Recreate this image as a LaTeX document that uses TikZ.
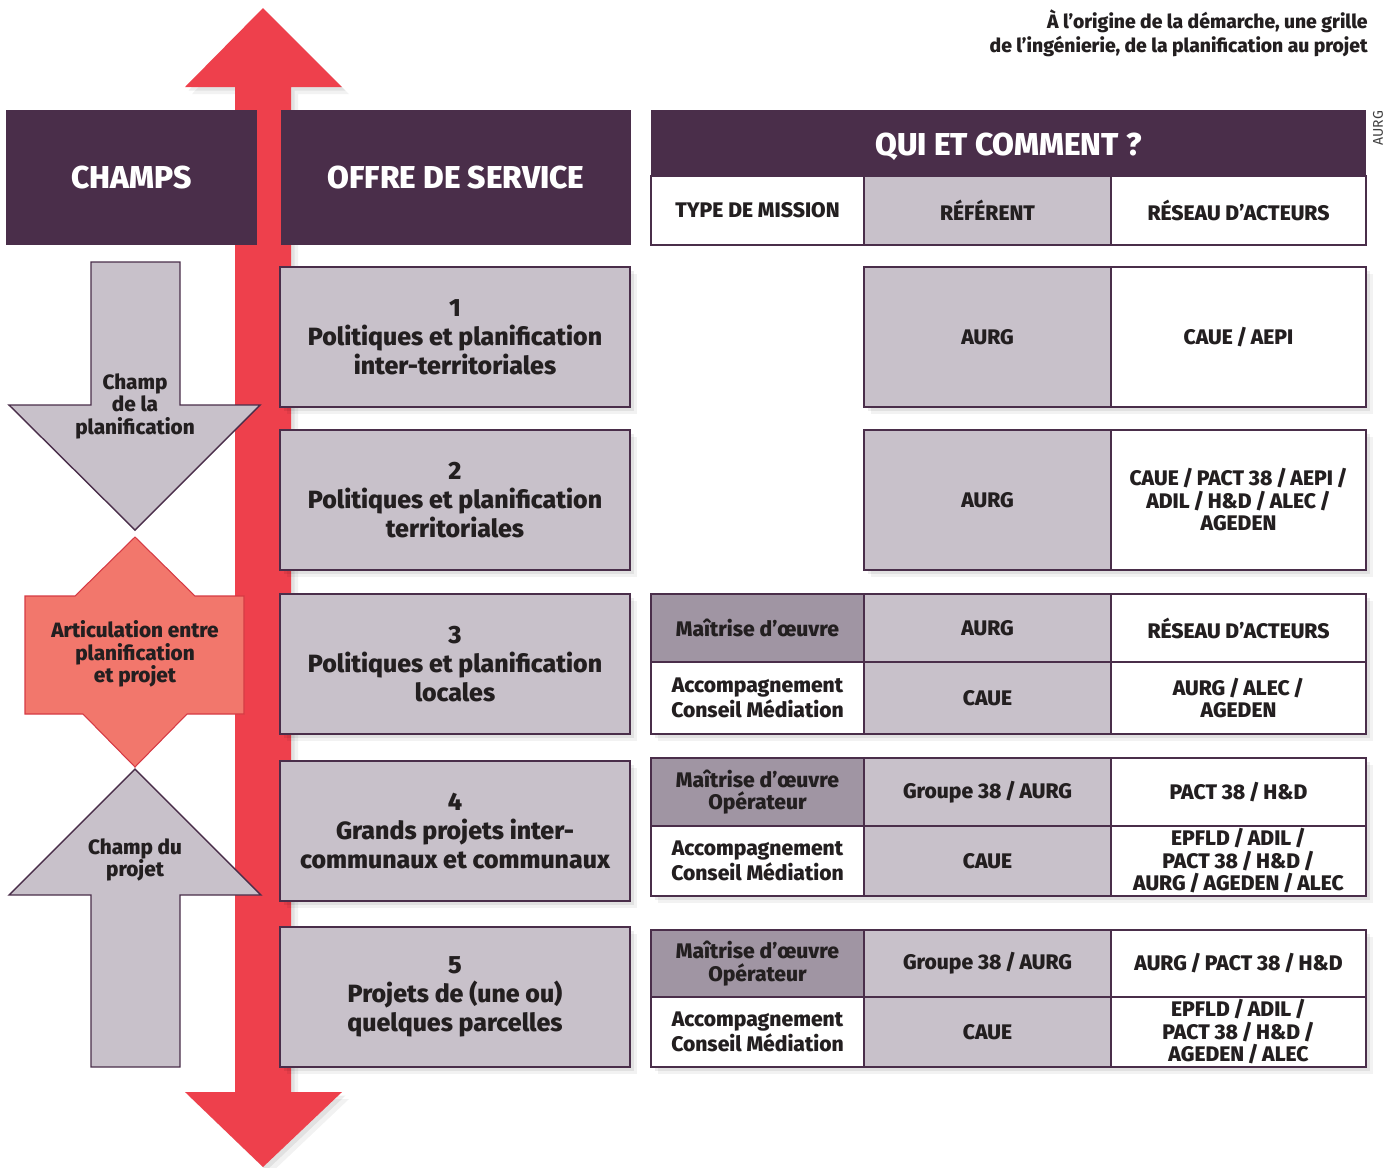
\documentclass[tikz,border=0pt]{standalone}
\usepackage{fontspec}
\setmainfont{Fira Sans}[BoldFont={Fira Sans ExtraBold}]
\usetikzlibrary{positioning,shadows}
\definecolor{hdpurple}{HTML}{4A2E4A}
\definecolor{lgray}{HTML}{C8C1CA}
\definecolor{mgray}{HTML}{A095A3}
\definecolor{axred}{HTML}{EE404C}
\definecolor{salmon}{HTML}{F2776C}
\definecolor{ink}{HTML}{231F20}

\begin{document}
\begin{tikzpicture}[
  x=0.2mm, y=-0.2mm,
  font=\bfseries, text=ink,
  sh/.style={general shadow={shadow xshift=.7mm, shadow yshift=-.7mm, fill=black, opacity=.07},
    general shadow={shadow xshift=1.4mm, shadow yshift=-1.4mm, fill=black, opacity=.05}},
  head/.style={fill=hdpurple, text=white, inner sep=0, outer sep=0, anchor=north west,
    font=\bfseries\fontsize{18}{21}\selectfont},
  offre/.style={draw=hdpurple, line width=0.9pt, fill=lgray, align=center, inner sep=0,
    outer sep=0, anchor=north west, minimum width=70mm, minimum height=28mm, sh,
    font=\bfseries\fontsize{14.2}{16.6}\selectfont},
  cell/.style={draw=hdpurple, line width=0.9pt, align=center, inner sep=0, outer sep=0,
    anchor=north west, font=\bfseries\fontsize{12}{12.8}\selectfont},
  typ/.style={cell, fill=white, minimum width=42.6mm},
  mo/.style={typ, fill=mgray},
  ref/.style={cell, fill=lgray, minimum width=49.4mm},
  res/.style={cell, fill=white, minimum width=51mm},
  champ/.style={draw=hdpurple, line width=0.8pt, fill=lgray},
  lbl/.style={align=center, font=\bfseries\fontsize{11.8}{12.8}\selectfont}
]
\useasboundingbox (0,0) rectangle (1386,1167);

\fill[axred, sh] (263,8) -- (342,87) -- (291,87) -- (291,1092) -- (342,1092)
  -- (263,1167) -- (185,1092) -- (235,1092) -- (235,87) -- (185,87) -- cycle;

\node[anchor=north east, align=right, inner sep=0, font=\bfseries\fontsize{11}{13.6}\selectfont]
  (titre) at (1368,9) {À l’origine de la démarche, une grille\\de l’ingénierie, de la planification au projet};
\node[rotate=90, inner sep=1pt, font=\fontsize{8}{8}\selectfont, text=black!75] (src) at (1378,128) {AURG};

\node[head, minimum width=50.2mm, minimum height=27mm] (hchamps) at (6,110) {CHAMPS};
\node[head, minimum width=70mm, minimum height=27mm] (hoffre) at (281,110) {OFFRE DE SERVICE};
\node[head, minimum width=143mm, minimum height=13.2mm, text height=5.9mm] (hqui) at (651,110) {QUI ET COMMENT ?};
\node[typ, minimum height=13.8mm] (htyp) at (651,176) {TYPE DE MISSION};
\node[ref, minimum height=13.8mm, right=0pt of htyp] (href) {RÉFÉRENT};
\node[res, minimum height=13.8mm, right=0pt of href] (hres) {RÉSEAU D’ACTEURS};

\draw[champ] (91,262) -- (180,262) -- (180,405) -- (260,405) -- (135,530) -- (9,405)
  -- (91,405) -- cycle;
\node[lbl] (cplan) at (135,406) {Champ\\de la\\planification};
\draw[draw=axred!90!black, line width=0.6pt, fill=salmon] (135,537) -- (195,596) -- (244,596)
  -- (244,714) -- (187,714) -- (135,767) -- (83,714) -- (25,714) -- (25,596) -- (75,596) -- cycle;
\node[lbl] (artic) at (135,654) {Articulation entre\\planification\\et projet};
\draw[champ] (135,769) -- (261,895) -- (180,895) -- (180,1067) -- (91,1067) -- (91,895)
  -- (9,895) -- cycle;
\node[lbl] (cproj) at (135,860) {Champ du\\projet};

\node[offre] (o1) at (280,267) {1\\Politiques et planification\\inter-territoriales};
\node[offre] (o2) at (280,430) {2\\Politiques et planification\\territoriales};
\node[offre] (o3) at (280,594) {3\\Politiques et planification\\locales};
\node[offre] (o4) at (280,761) {4\\Grands projets inter-\\communaux et communaux};
\node[offre] (o5) at (280,927) {5\\Projets de (une ou)\\quelques parcelles};

\path[sh] (864,267) rectangle (1366,407);
\node[ref, minimum height=28mm] (r1) at (864,267) {AURG};
\node[res, minimum height=28mm, right=0pt of r1] (s1) {CAUE\,/\,AEPI};

\path[sh] (864,430) rectangle (1366,570);
\node[ref, minimum height=28mm] (r2) at (864,430) {AURG};
\node[res, minimum height=28mm, right=0pt of r2] (s2) {CAUE\,/\,PACT 38\,/\,AEPI\,/\\ADIL\,/\,H\&D\,/\,ALEC\,/\\AGEDEN};

\path[sh] (651,594) rectangle (1366,734);
\node[mo, minimum height=13.6mm] (m3) at (651,594) {Maîtrise d’œuvre};
\node[ref, minimum height=13.6mm, right=0pt of m3] (r3) {AURG};
\node[res, minimum height=13.6mm, right=0pt of r3] (s3) {RÉSEAU D’ACTEURS};
\node[typ, minimum height=14.4mm] (a3) at (651,662) {Accompagnement\\Conseil Médiation};
\node[ref, minimum height=14.4mm, right=0pt of a3] (c3) {CAUE};
\node[res, minimum height=14.4mm, right=0pt of c3] (t3) {AURG\,/\,ALEC\,/\\AGEDEN};

\path[sh] (651,758) rectangle (1366,896);
\node[mo, minimum height=13.6mm] (m4) at (651,758) {Maîtrise d’œuvre\\Opérateur};
\node[ref, minimum height=13.6mm, right=0pt of m4] (r4) {Groupe 38\,/\,AURG};
\node[res, minimum height=13.6mm, right=0pt of r4] (s4) {PACT 38\,/\,H\&D};
\node[typ, minimum height=14mm] (a4) at (651,826) {Accompagnement\\Conseil Médiation};
\node[ref, minimum height=14mm, right=0pt of a4] (c4) {CAUE};
\node[res, minimum height=14mm, right=0pt of c4] (t4) {EPFLD\,/\,ADIL\,/\\PACT 38\,/\,H\&D\,/\\AURG\,/\,AGEDEN\,/\,ALEC};

\path[sh] (651,930) rectangle (1366,1067);
\node[mo, minimum height=13.4mm] (m5) at (651,930) {Maîtrise d’œuvre\\Opérateur};
\node[ref, minimum height=13.4mm, right=0pt of m5] (r5) {Groupe 38\,/\,AURG};
\node[res, minimum height=13.4mm, right=0pt of r5] (s5) {AURG\,/\,PACT 38\,/\,H\&D};
\node[typ, minimum height=14mm] (a5) at (651,997) {Accompagnement\\Conseil Médiation};
\node[ref, minimum height=14mm, right=0pt of a5] (c5) {CAUE};
\node[res, minimum height=14mm, right=0pt of c5] (t5) {EPFLD\,/\,ADIL\,/\\PACT 38\,/\,H\&D\,/\\AGEDEN\,/\,ALEC};
\end{tikzpicture}
\end{document}
